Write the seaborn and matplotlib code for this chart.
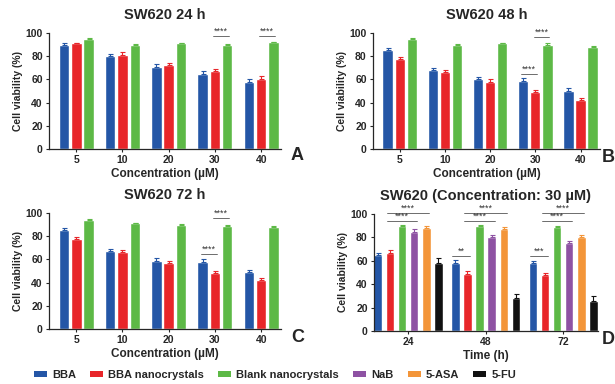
import numpy as np
import pandas as pd
import matplotlib
matplotlib.use("Agg")
import matplotlib.pyplot as plt
import seaborn as sns
from matplotlib.patches import Patch

sns.set_style("ticks")
plt.rcParams['font.family'] = ['Liberation Sans', 'DejaVu Sans']
plt.rcParams['font.weight'] = 'bold'

# ---------------- data ----------------
conc = ["5", "10", "20", "30", "40"]
times = ["24", "48", "72"]
series3 = ["BBA", "BBA nanocrystals", "Blank nanocrystals"]
series6 = ["BBA", "BBA nanocrystals", "Blank nanocrystals", "NaB", "5-ASA", "5-FU"]
palette = ["#2456A6", "#E8262A", "#5DB946", "#8E52A3", "#F39539", "#111111"]

# 24 h
a_bba = [90, 80, 71, 65, 58]
a_nano = [91, 81, 72, 67, 60]
a_blank = [95, 90, 91, 90, 92]
a_bba_err = [1.5, 2, 2.5, 2, 2.5]
a_nano_err = [0.8, 2.5, 2.5, 2, 2.5]
a_blank_err = [0.5, 0.5, 0.5, 0.5, 0.5]
# 48 h
b_bba = [85, 68, 60, 58.5, 50]
b_nano = [78, 66, 58, 49, 42]
b_blank = [95, 90, 91, 90, 88]
b_bba_err = [2, 2, 2, 2.5, 2.5]
b_nano_err = [1, 2, 2, 2, 2]
b_blank_err = [0.5, 0.5, 0.5, 1, 1]
# 72 h
c_bba = [85, 67, 59, 58, 49]
c_nano = [78, 66, 57, 48, 42]
c_blank = [94, 91, 90, 89, 88]
c_bba_err = [2, 2, 2, 2, 2]
c_nano_err = [1, 2, 2, 2, 2]
c_blank_err = [0.5, 0.5, 0.5, 1, 1]
# 30 uM over time
d_bba = [65, 58.5, 58]
d_nano = [67, 49, 48]
d_blank = [90, 90, 89]
d_nab = [85, 80, 75]
d_asa = [88, 87, 80]
d_fu = [58, 28, 26]
d_bba_err = [2, 2, 2]
d_nano_err = [2, 2, 2]
d_blank_err = [0.5, 1, 1]
d_nab_err = [2, 2, 2]
d_asa_err = [2, 2, 2]
d_fu_err = [4, 4, 4]


def long_df(cats, names, vals):
    rows = []
    for n, v in zip(names, vals):
        for c, y in zip(cats, v):
            rows.append({"cat": c, "series": n, "val": y})
    return pd.DataFrame(rows)


fig = plt.figure(figsize=(6.15, 3.84), dpi=100)
W, H = 615, 384


def add_ax(l, r, t, b):
    return fig.add_axes([l / W, 1 - b / H, (r - l) / W, (b - t) / H])


def panel(ax, cats, names, vals, errs, width, gap, xlim, title, xlabel, letter, lx, ly, sigs):
    df = long_df(cats, names, vals)
    sns.barplot(data=df, x="cat", y="val", hue="series", hue_order=names,
                order=cats, palette=palette[:len(names)], width=width, gap=gap,
                errorbar=None, legend=False, ax=ax, saturation=1)
    bar_conts = list(ax.containers)
    centers = []
    for k, cont in enumerate(bar_conts):
        xs = [p.get_x() + p.get_width() / 2 for p in cont.patches]
        hs = [p.get_height() for p in cont.patches]
        centers.append(xs)
        ax.errorbar(xs, hs, yerr=[np.zeros(len(hs)), errs[k]], fmt='none',
                    ecolor=palette[k], elinewidth=0.8, capsize=1.8, capthick=0.8, zorder=1)
    for (ci, si, sj, y, txt) in sigs:
        x0 = centers[si][ci] - 0.04
        x1 = centers[sj][ci] + 0.04
        ax.plot([x0, x1], [y, y], color="#555555", lw=0.6, clip_on=False)
        ax.text((x0 + x1) / 2, y + 0.3, txt, ha="center", va="bottom",
                fontsize=6.5, color="#333333", fontweight="normal")
    ax.set_ylim(0, 100)
    ax.set_xlim(*xlim)
    ax.set_yticks([0, 20, 40, 60, 80, 100])
    ax.tick_params(axis="both", labelsize=7.5, length=2.5, width=0.8, pad=2)
    for lab in ax.get_xticklabels() + ax.get_yticklabels():
        lab.set_fontweight("bold")
    ax.set_ylabel("Cell viability (%)", fontsize=7.5, fontweight="bold", labelpad=2)
    ax.set_xlabel(xlabel, fontsize=8.5, fontweight="bold", labelpad=2)
    ax.set_title(title, fontsize=10.5, fontweight="bold", pad=10)
    sns.despine(ax=ax)
    for s in ["left", "bottom"]:
        ax.spines[s].set_linewidth(0.9)
    fig.text(lx / W, 1 - ly / H, letter, fontsize=13, fontweight="bold",
             ha="left", va="center")


xl5 = (-0.59, 4.43)
axA = add_ax(49, 281, 33, 149)
panel(axA, conc, series3, [a_bba, a_nano, a_blank], [a_bba_err, a_nano_err, a_blank_err],
      0.8, 0.15, xl5, "SW620 24 h", "Concentration (\u00b5M)", "A", 291, 156,
      [(3, 1, 2, 97, "****"), (4, 1, 2, 97, "****")])
axB = add_ax(373, 600, 33, 149)
panel(axB, conc, series3, [b_bba, b_nano, b_blank], [b_bba_err, b_nano_err, b_blank_err],
      0.8, 0.15, xl5, "SW620 48 h", "Concentration (\u00b5M)", "B", 602, 157,
      [(3, 1, 2, 96.5, "****"), (3, 0, 1, 64.5, "****")])
axC = add_ax(49, 281, 213, 329)
panel(axC, conc, series3, [c_bba, c_nano, c_blank], [c_bba_err, c_nano_err, c_blank_err],
      0.8, 0.15, xl5, "SW620 72 h", "Concentration (\u00b5M)", "C", 291, 337,
      [(3, 1, 2, 95.5, "****"), (3, 0, 1, 64.5, "****")])
axD = add_ax(374, 598, 214, 331)
panel(axD, times, series6, [d_bba, d_nano, d_blank, d_nab, d_asa, d_fu],
      [d_bba_err, d_nano_err, d_blank_err, d_nab_err, d_asa_err, d_fu_err],
      0.94, 0.3, (-0.44, 2.45), "SW620 (Concentration: 30 \u00b5M)", "Time (h)", "D", 602, 340,
      [(0, 1, 4, 100.5, "****"), (0, 1, 3, 94, "****"),
       (1, 1, 4, 100.5, "****"), (1, 1, 3, 94, "****"), (1, 0, 1, 64, "**"),
       (2, 1, 4, 100.5, "****"), (2, 1, 3, 94, "****"), (2, 0, 1, 64, "***")])

handles = [Patch(facecolor=c, edgecolor="none") for c in palette]
fig.legend(handles, series6, loc="center", bbox_to_anchor=(275 / W, 1 - 375 / H),
           ncol=6, frameon=False, handlelength=1.2, handleheight=0.4,
           columnspacing=1.25, handletextpad=0.45, prop={"weight": "bold", "size": 8})

fig.savefig("out.png", dpi=100)
